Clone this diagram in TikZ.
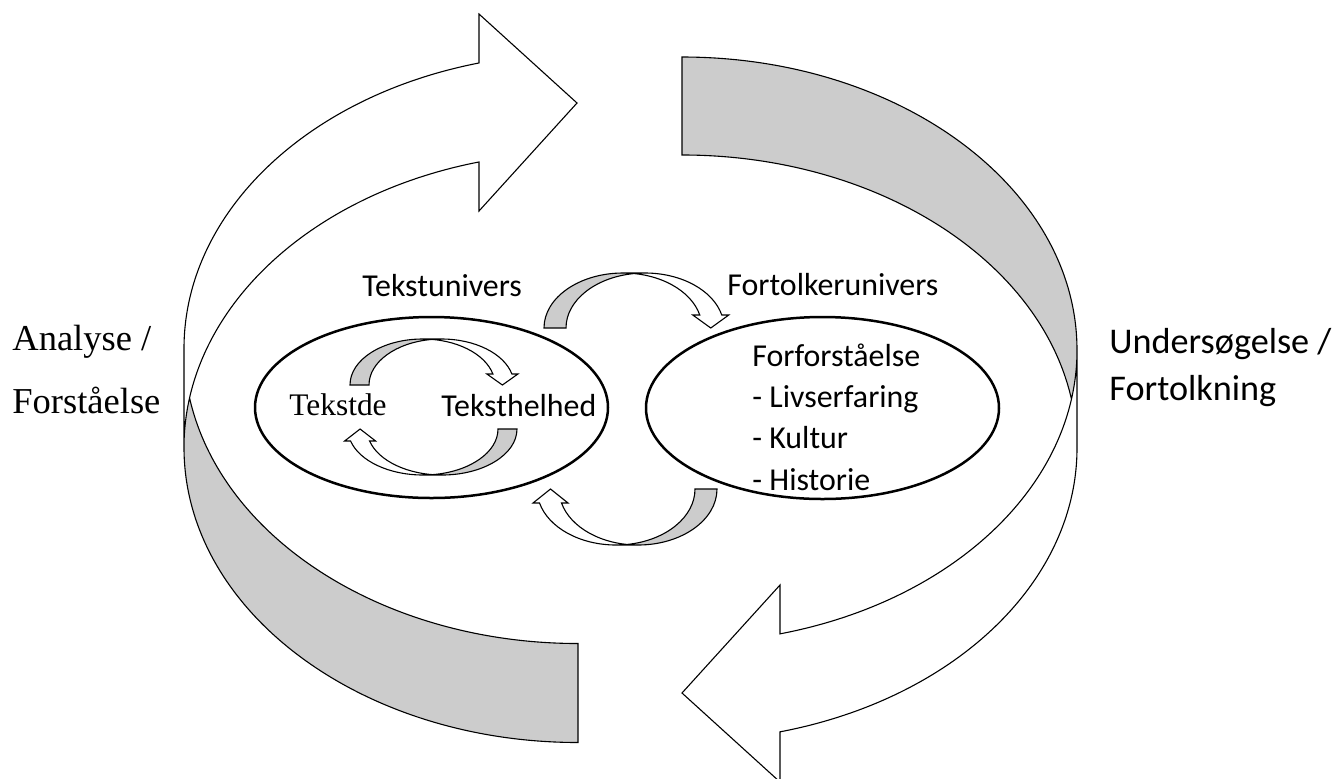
\documentclass[tikz,border=0pt]{standalone}
\usepackage{fontspec}
\usepackage{tikz}
\usetikzlibrary{shapes.geometric}
\setmainfont{Liberation Serif}
\newfontfamily\calfont{Carlito}
\definecolor{backgrey}{HTML}{CCCCCC}

% ribbon arrow: #1 radius, #2 band width, #3 height, #4 head width, #5 head height
\newcommand{\curvarrow}[5]{%
  \pgfmathsetmacro\arwR{#1}\pgfmathsetmacro\arwT{#2}\pgfmathsetmacro\arwRy{#3}%
  \pgfmathsetmacro\arwAw{#4}\pgfmathsetmacro\arwAh{#5}%
  \pgfmathsetmacro\arwAl{acos(\arwT/(2*\arwR))}%
  \pgfmathsetmacro\arwS{\arwAl-180}%
  \pgfmathsetmacro\arwBe{asin(\arwAh/\arwRy)}%
  \pgfmathsetmacro\arwXa{\arwR+\arwR*cos(\arwBe)}%
  \pgfmathsetmacro\arwXb{\arwXa+\arwT}%
  \pgfmathsetmacro\arwDh{(\arwAw-\arwT)/2}%
  \pgfmathsetmacro\arwXt{(\arwXa+\arwXb)/2}%
  \pgfmathsetmacro\arwXc{\arwR+\arwT/2}%
  \pgfmathsetmacro\arwYc{-\arwRy*sin(\arwAl)}%
  \fill[backside] (\arwXc,\arwYc) arc[start angle=\arwS, end angle=-180, x radius=\arwR, y radius=\arwRy]
    -- (0,0) arc[start angle=-180, end angle=-\arwAl, x radius=\arwR, y radius=\arwRy] -- cycle;
  \draw[band] (\arwXc,\arwYc) arc[start angle=\arwS, end angle=-180, x radius=\arwR, y radius=\arwRy]
    -- (0,0) arc[start angle=-180, end angle=-90, x radius=\arwR, y radius=\arwRy]
    -- (\arwR+\arwT,-\arwRy) arc[start angle=-90, end angle=-\arwBe, x radius=\arwR, y radius=\arwRy]
    -- (\arwXb+\arwDh,-\arwAh) -- (\arwXt,0) -- (\arwXa-\arwDh,-\arwAh) -- (\arwXa,-\arwAh)
    arc[start angle=-\arwBe, end angle=-90, x radius=\arwR, y radius=\arwRy];
}

\begin{document}
\begin{tikzpicture}[x=0.5pt, y=-0.5pt,
  band/.style={draw=black, line width=0.55pt, line join=miter},
  backside/.style={fill=backgrey},
  univ/.style={ellipse, draw=black, line width=1.25pt, inner sep=0pt},
  lbl/.style={font=\calfont\fontsize{15.95}{19}\selectfont, inner sep=0pt, anchor=base west},
  slbl/.style={font=\fontsize{15.7}{19}\selectfont, inner sep=0pt, anchor=base west},
  side/.style={font=\calfont\fontsize{18.1}{22}\selectfont, inner sep=0pt, anchor=base west},
  sside/.style={font=\fontsize{18.25}{22}\selectfont, inner sep=0pt, anchor=base west}
]
\fill[white] (0,0) rectangle (1339,778);
\useasboundingbox (0,0) rectangle (1339,778);
\clip (0,0) rectangle (1339,778);
% left big arrow
\fill[backside] (189.59,398) arc[start angle=170.34, end angle=90, x radius=394, y radius=295]
  -- (578,742.5) arc[start angle=90, end angle=189.66, x radius=394, y radius=295] -- cycle;
\draw[band] (189.59,398) arc[start angle=170.34, end angle=90, x radius=394, y radius=295]
  -- (578,742.5) arc[start angle=90, end angle=180, x radius=394, y radius=295]
  -- (184,348.5) arc[start angle=180, end angle=255.45, x radius=394, y radius=295]
  -- (479,14) -- (577,103) -- (479,211) -- (479,161.96)
  arc[start angle=255.45, end angle=180, x radius=394, y radius=295];
% right big arrow
\fill[backside] (1071.44,399) arc[start angle=-9.626, end angle=-90, x radius=395, y radius=293]
  -- (682,57) arc[start angle=-90, end angle=9.626, x radius=395, y radius=293] -- cycle;
\draw[band] (1071.44,399) arc[start angle=-9.626, end angle=-90, x radius=395, y radius=293]
  -- (682,57) arc[start angle=-90, end angle=0, x radius=395, y radius=293]
  -- (1077,448) arc[start angle=0, end angle=75.636, x radius=395, y radius=293]
  -- (780,782) -- (682,693) -- (780,585) -- (780,633.84)
  arc[start angle=75.636, end angle=0, x radius=395, y radius=293];
% universes
\node[univ, minimum width=176.5pt, minimum height=90.5pt] (tekstuniv) at (431.5,407.5) {};
\node[univ, minimum width=176.5pt, minimum height=91pt] (fortuniv) at (822.5,408) {};
% small arrows
\begin{scope}[shift={(350,385)}]
  \curvarrow{72.5}{19}{46}{31}{11}
\end{scope}
\begin{scope}[shift={(517,429)}, rotate=180]
  \curvarrow{75}{19}{46}{31}{12}
\end{scope}
\begin{scope}[shift={(544,328)}]
  \curvarrow{79}{22}{55}{36}{13}
\end{scope}
\begin{scope}[shift={(717,489)}, rotate=180]
  \curvarrow{79}{22}{56}{35}{14}
\end{scope}
% labels
\node[lbl] (tu) at (362,296) {Tekstunivers};
\node[lbl] (fu) at (727,295) {Fortolkerunivers};
\node[slbl] (tdel) at (289,415) {Tekstde};
\node[lbl] (thel) at (441,416) {Teksthelhed};
\node[lbl] (forf) at (752,366) {Forforståelse};
\node[lbl] (livs) at (752,407) {- Livserfaring};
\node[lbl] (kult) at (752,448) {- Kultur};
\node[lbl] (hist) at (752,490) {- Historie};
\node[sside] (ana) at (12,350) {Analyse /};
\node[sside] (forst) at (12,413) {Forståelse};
\node[side] (unders) at (1109,353) {Undersøgelse /};
\node[side] (fortolk) at (1109,400) {Fortolkning};
\end{tikzpicture}
\end{document}
